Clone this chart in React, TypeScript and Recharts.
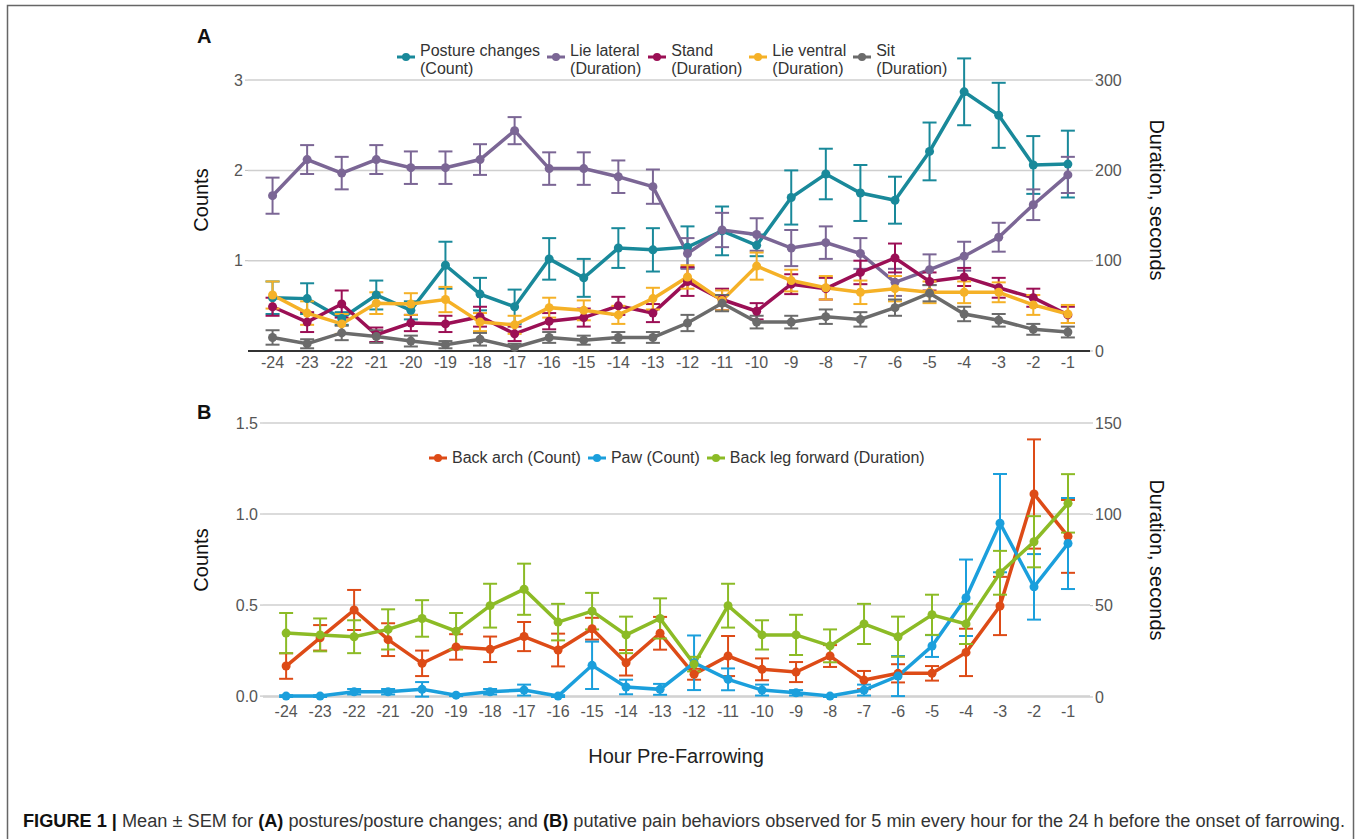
import React from 'react';
import { ComposedChart, Line, XAxis, YAxis, CartesianGrid, ErrorBar, Legend } from 'recharts';

// hours before farrowing
const HOURS = [-24, -23, -22, -21, -20, -19, -18, -17, -16, -15, -14, -13, -12, -11, -10, -9, -8, -7, -6, -5, -4, -3, -2, -1];

// Panel A: postures (counts on left axis, durations in seconds on right axis)
const postureChanges = [0.59, 0.58, 0.36, 0.62, 0.45, 0.95, 0.63, 0.49, 1.02, 0.81, 1.14, 1.12, 1.15, 1.33, 1.17, 1.70, 1.96, 1.75, 1.67, 2.21, 2.87, 2.61, 2.06, 2.07];
const postureChangesSem = [0.18, 0.17, 0.07, 0.16, 0.10, 0.26, 0.18, 0.19, 0.23, 0.21, 0.22, 0.24, 0.23, 0.27, 0.12, 0.30, 0.28, 0.31, 0.26, 0.32, 0.37, 0.36, 0.32, 0.37];
const lieLateral = [172, 212, 197, 212, 203, 203, 212, 244, 202, 202, 193, 182, 108, 134, 129, 114, 120, 108, 76, 90, 105, 126, 162, 195];
const lieLateralSem = [20, 16, 18, 16, 18, 18, 17, 15, 18, 18, 18, 19, 17, 19, 18, 20, 18, 17, 15, 17, 16, 16, 17, 20];
const stand = [49, 32, 52, 18, 31, 30, 38, 19, 33, 37, 50, 42, 77, 57, 44, 74, 69, 87, 103, 77, 82, 70, 59, 40];
const standSem = [10, 11, 15, 8, 9, 9, 11, 8, 9, 10, 10, 10, 16, 12, 9, 11, 12, 13, 16, 10, 10, 11, 10, 9];
const lieVentral = [62, 42, 30, 53, 52, 57, 32, 29, 48, 45, 40, 58, 82, 56, 94, 78, 70, 65, 69, 65, 65, 65, 51, 41];
const lieVentralSem = [15, 13, 11, 12, 12, 14, 10, 10, 11, 11, 10, 12, 13, 11, 15, 12, 13, 13, 14, 12, 12, 11, 11, 10];
const sit = [15, 8, 20, 16, 11, 7, 13, 4, 15, 12, 15, 15, 31, 53, 32, 32, 38, 35, 48, 64, 41, 34, 24, 21];
const sitSem = [8, 5, 8, 7, 6, 4, 7, 4, 6, 5, 6, 6, 9, 9, 7, 7, 8, 8, 9, 9, 8, 7, 6, 6];

// Panel B: putative pain behaviours
const backArch = [0.165, 0.32, 0.473, 0.31, 0.18, 0.27, 0.257, 0.327, 0.253, 0.37, 0.183, 0.345, 0.12, 0.22, 0.147, 0.132, 0.22, 0.088, 0.125, 0.125, 0.24, 0.495, 1.11, 0.877];
const backArchSem = [0.07, 0.07, 0.11, 0.09, 0.07, 0.07, 0.07, 0.08, 0.09, 0.06, 0.07, 0.09, 0.03, 0.11, 0.06, 0.055, 0.06, 0.05, 0.05, 0.04, 0.13, 0.16, 0.30, 0.2];
const paw = [0, 0, 0.024, 0.024, 0.037, 0.005, 0.024, 0.033, 0, 0.169, 0.05, 0.037, 0.183, 0.092, 0.033, 0.018, 0, 0.033, 0.11, 0.275, 0.54, 0.95, 0.60, 0.838];
const pawSem = [0.005, 0.005, 0.015, 0.015, 0.04, 0.005, 0.015, 0.03, 0.005, 0.13, 0.04, 0.03, 0.15, 0.06, 0.03, 0.015, 0.005, 0.03, 0.11, 0.06, 0.21, 0.27, 0.18, 0.25];
const backLegForward = [35, 34, 33, 37, 43, 36, 50, 59, 41, 47, 34, 43, 18, 50, 34, 34, 28, 40, 33, 45, 40, 68, 85, 106];
const backLegForwardSem = [11, 9, 9, 11, 10, 10, 12, 14, 10, 10, 10, 11, 4, 12, 8, 11, 9, 11, 11, 11, 11, 12, 14, 16];

const TICKS_A_LEFT = [1, 2, 3];
const TICKS_A_RIGHT = [0, 100, 200, 300];
const TICKS_B_LEFT = [0, 0.5, 1, 1.5];
const TICKS_B_RIGHT = [0, 50, 100, 150];
const DOMAIN_A_LEFT: [number, number] = [0, 3.3];

const FONT = '"Liberation Sans", Arial, Helvetica, sans-serif';

const dataA = HOURS.map((hour, i) => ({
    hour,
    posture: postureChanges[i], postureSem: postureChangesSem[i],
    lateral: lieLateral[i], lateralSem: lieLateralSem[i],
    stand: stand[i], standSem: standSem[i],
    ventral: lieVentral[i], ventralSem: lieVentralSem[i],
    sit: sit[i], sitSem: sitSem[i],
}));

const dataB = HOURS.map((hour, i) => ({
    hour,
    arch: backArch[i], archSem: backArchSem[i],
    paw: paw[i], pawSem: pawSem[i],
    leg: backLegForward[i], legSem: backLegForwardSem[i],
}));

const seriesA = [
    { key: 'posture', label: ['Posture changes', '(Count)'], color: '#19899a', axis: 'left' },
    { key: 'lateral', label: ['Lie lateral', '(Duration)'], color: '#7b6695', axis: 'right' },
    { key: 'stand', label: ['Stand', '(Duration)'], color: '#9b0f55', axis: 'right' },
    { key: 'ventral', label: ['Lie ventral', '(Duration)'], color: '#f5b127', axis: 'right' },
    { key: 'sit', label: ['Sit', '(Duration)'], color: '#6b6b6b', axis: 'right' },
];

const seriesB = [
    { key: 'arch', label: ['Back arch (Count)'], color: '#dd4b17', axis: 'left' },
    { key: 'paw', label: ['Paw (Count)'], color: '#1b9fdc', axis: 'left' },
    { key: 'leg', label: ['Back leg forward (Duration)'], color: '#8cbb26', axis: 'right' },
];

type Item = { key: string; label: string[]; color: string; axis: string };

const LegendRow = ({ items, markerTop }: { items: Item[]; markerTop: number }) => (
    <div style={{ display: 'flex', alignItems: 'flex-start', fontFamily: FONT, fontSize: 16, lineHeight: '18px', color: '#333' }}>
        {items.map(it => (
            <div key={it.key} style={{ display: 'flex', alignItems: 'flex-start', marginRight: 7 }}>
                <svg width={18} height={10} style={{ marginRight: 5, marginTop: markerTop }}>
                    <line x1={0} y1={5} x2={18} y2={5} stroke={it.color} strokeWidth={3} />
                    <circle cx={9} cy={5} r={4} fill={it.color} />
                </svg>
                <div>
                    {it.label.map(l => <div key={l} style={{ whiteSpace: 'nowrap' }}>{l}</div>)}
                </div>
            </div>
        ))}
    </div>
);

const tickStyle = { fill: '#555', fontSize: 16, fontFamily: FONT };

const renderLines = (items: Item[]) => items.map(s => (
    <Line
        key={s.key}
        type="linear"
        dataKey={s.key}
        yAxisId={s.axis}
        stroke={s.color}
        strokeWidth={3.5}
        dot={{ r: 4.5, fill: s.color, stroke: s.color, strokeWidth: 0 }}
        activeDot={false}
        isAnimationActive={false}
    >
        <ErrorBar dataKey={`${s.key}Sem`} direction="y" width={7} strokeWidth={2} stroke={s.color} isAnimationActive={false} />
    </Line>
));

// grid lines only at the labelled count ticks (no line at the top of the plot)
const gridAtTicks = (ticks: number[], domain: [number, number]) => (props: any) => {
    const s = props?.yAxis?.scale;
    if (typeof s === 'function') return ticks.map(t => s(t));
    if (s && typeof s.map === 'function' && !Array.isArray(s)) return ticks.map(t => s.map(t));
    const off = props?.offset;
    if (!off) return [];
    return ticks.map(t => off.top + off.height * (1 - (t - domain[0]) / (domain[1] - domain[0])));
};

export default function App() {
    return (
        <div style={{ position: 'absolute', left: 0, top: 0, width: 1357, height: 839, background: '#fff', overflow: 'hidden', fontFamily: FONT }}>
            {/* Panel A */}
            <div style={{ position: 'absolute', left: 0, top: 0 }}>
                <ComposedChart width={1357} height={380} data={dataA} margin={{ top: 53, right: 217, bottom: 4, left: 208 }}>
                    <CartesianGrid yAxisId="left" vertical={false} stroke="#cfcfcf" strokeWidth={1.5}
                        horizontalCoordinatesGenerator={gridAtTicks(TICKS_A_LEFT, DOMAIN_A_LEFT)} />
                    <XAxis dataKey="hour" type="number" domain={[-24.71, -0.36]} ticks={HOURS} interval={0}
                        tick={tickStyle} tickLine={false} tickSize={4} tickMargin={2} height={25}
                        axisLine={{ stroke: '#333', strokeWidth: 2 }} />
                    <YAxis yAxisId="left" domain={DOMAIN_A_LEFT} ticks={TICKS_A_LEFT} width={40} axisLine={false}
                        tick={tickStyle} tickLine={{ stroke: '#bbb' }} tickSize={3} tickMargin={2} />
                    <YAxis yAxisId="right" orientation="right" domain={[0, 330]} ticks={TICKS_A_RIGHT} width={50} axisLine={false}
                        tick={tickStyle} tickLine={{ stroke: '#bbb' }} tickSize={3} tickMargin={2} />
                    <Legend layout="horizontal" verticalAlign="middle" align="center"
                        wrapperStyle={{ top: 42, left: 397, width: 'auto' }}
                        content={() => <LegendRow items={seriesA} markerTop={10} />} />
                    {renderLines(seriesA)}
                </ComposedChart>
            </div>

            {/* Panel B */}
            <div style={{ position: 'absolute', left: 0, top: 380 }}>
                <ComposedChart width={1357} height={360} data={dataB} margin={{ top: 43, right: 217, bottom: 18, left: 223 }}>
                    <CartesianGrid yAxisId="left" vertical={false} stroke="#cfcfcf" strokeWidth={1.5} />
                    <XAxis dataKey="hour" type="number" domain={[-24.68, -0.353]} ticks={HOURS} interval={0}
                        tick={tickStyle} tickLine={false} tickSize={6} tickMargin={3} height={25} axisLine={false} />
                    <YAxis yAxisId="left" domain={[0, 1.5]} ticks={TICKS_B_LEFT} width={40} axisLine={false}
                        tickFormatter={(v: number) => v.toFixed(1)}
                        tick={tickStyle} tickLine={{ stroke: '#bbb' }} tickSize={3} tickMargin={2} />
                    <YAxis yAxisId="right" orientation="right" domain={[0, 150]} ticks={TICKS_B_RIGHT} width={50} axisLine={false}
                        tick={tickStyle} tickLine={{ stroke: '#bbb' }} tickSize={3} tickMargin={2} />
                    <Legend layout="horizontal" verticalAlign="middle" align="center"
                        wrapperStyle={{ top: 69, left: 429, width: 'auto' }}
                        content={() => <LegendRow items={seriesB} markerTop={4} />} />
                    {renderLines(seriesB)}
                </ComposedChart>
            </div>

            {/* frame, panel letters, axis titles, caption */}
            <svg width={1357} height={839} style={{ position: 'absolute', left: 0, top: 0, pointerEvents: 'none' }}>
                <rect x={7.5} y={5.5} width={1346} height={860} fill="none" stroke="#666" strokeWidth={1.5} />
                <text x={197} y={43} fontSize={20} fontWeight="bold" fill="#111" fontFamily={FONT}>A</text>
                <text x={197} y={419} fontSize={20} fontWeight="bold" fill="#111" fontFamily={FONT}>B</text>
                <text transform="translate(208,200) rotate(-90)" textAnchor="middle" fontSize={20} fill="#111" fontFamily={FONT}>Counts</text>
                <text transform="translate(208,560) rotate(-90)" textAnchor="middle" fontSize={20} fill="#111" fontFamily={FONT}>Counts</text>
                <text transform="translate(1150,200) rotate(90)" textAnchor="middle" fontSize={20} fill="#111" fontFamily={FONT}>Duration, seconds</text>
                <text transform="translate(1150,560) rotate(90)" textAnchor="middle" fontSize={20} fill="#111" fontFamily={FONT}>Duration, seconds</text>
                <text x={676} y={763} textAnchor="middle" fontSize={20} fill="#222" fontFamily={FONT}>Hour Pre-Farrowing</text>
                <text x={23} y={827} fontSize={18} fill="#333" fontFamily={'"Liberation Sans Narrow", ' + FONT}
                    textLength={1322} lengthAdjust="spacingAndGlyphs">
                    <tspan fontWeight="bold" fill="#111">FIGURE 1 | </tspan>
                    <tspan>Mean ± SEM for </tspan>
                    <tspan fontWeight="bold" fill="#111">(A)</tspan>
                    <tspan> postures/posture changes; and </tspan>
                    <tspan fontWeight="bold" fill="#111">(B)</tspan>
                    <tspan> putative pain behaviors observed for 5 min every hour for the 24 h before the onset of farrowing.</tspan>
                </text>
            </svg>
        </div>
    );
}
